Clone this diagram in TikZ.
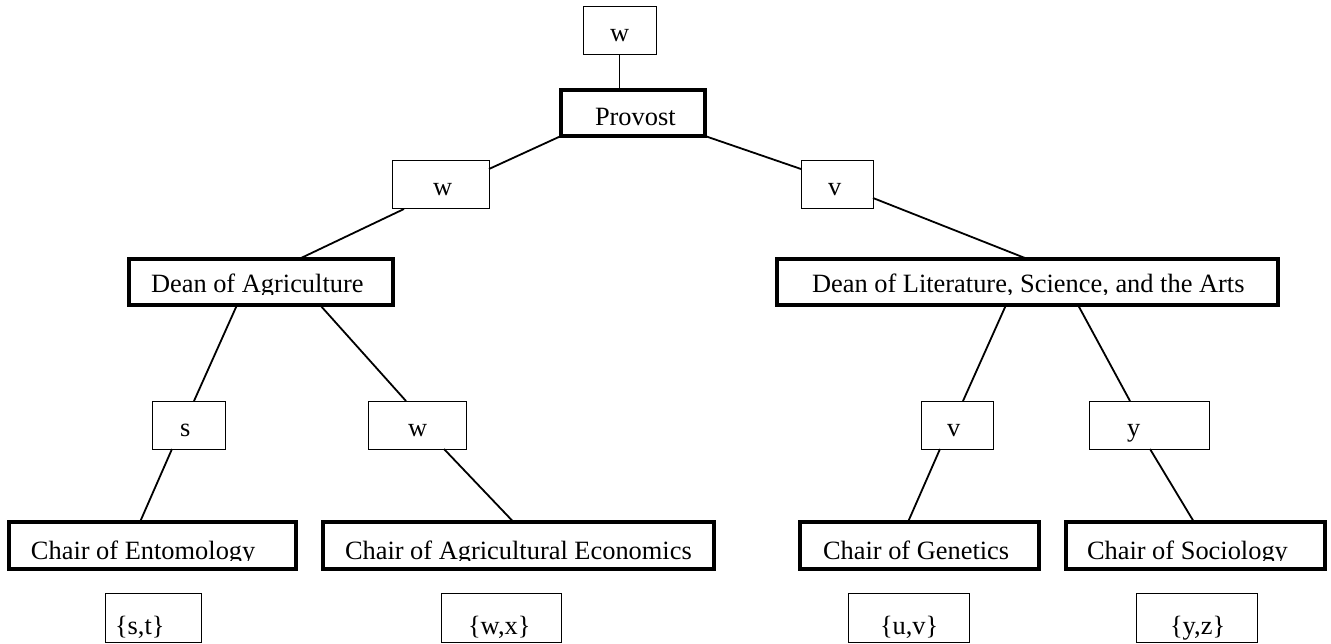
\documentclass[tikz,border=0pt]{standalone}
\usepackage{fontspec}
\setmainfont{Liberation Serif}
% box text: width #1, left padding #2, text #3
\newcommand\boxtxt[3]{\makebox[#1pt][l]{\hspace*{#2pt}#3}}
\begin{document}
\begin{tikzpicture}[x=1pt,y=-1pt,
  lbl/.style={font=\fontsize{26.4}{30}\selectfont, inner sep=0pt, outer sep=0pt, anchor=center},
  thinbox/.style={lbl, draw, line width=1pt, minimum height=48pt, text height=35pt, text depth=13pt},
  setbox/.style={lbl, draw, line width=1pt, minimum height=49pt, text height=41pt, text depth=8pt},
  headbox/.style={lbl, draw, line width=4pt, minimum height=46pt},
  chairbox/.style={lbl, draw, line width=4pt, minimum height=47pt, text height=37pt, text depth=10pt},
  link/.style={line width=1.8pt},
  mask/.style={fill=white}]
\useasboundingbox (0,0) rectangle (1331,644);

% officers (thick boxes)
\node[headbox, minimum width=144pt, text height=36pt, text depth=10pt] (prov) at (633,113) {\boxtxt{144}{34}{Provost}};
\node[headbox, minimum width=264pt, text height=34pt, text depth=12pt] (deanag) at (261,282) {\boxtxt{264}{22}{Dean of Agriculture}};
\node[headbox, minimum width=501pt, text height=34pt, text depth=12pt] (deanlas) at (1027.5,282) {\boxtxt{501}{35}{Dean of Literature, Science, and the Arts}};
\node[chairbox, minimum width=287pt] (ento) at (152.5,545.5) {\boxtxt{287}{22}{Chair of Entomology}};
\node[chairbox, minimum width=391pt] (agecon) at (518.5,545.5) {\boxtxt{391}{22}{Chair of Agricultural Economics}};
\node[chairbox, minimum width=239pt] (gen) at (919.5,545.5) {\boxtxt{239}{23}{Chair of Genetics}};
\node[chairbox, minimum width=259pt] (soc) at (1195.5,545.5) {\boxtxt{259}{21}{Chair of Sociology}};

% labels on the links (thin boxes)
\node[thinbox, minimum width=73pt] (wtop) at (619.5,31) {\boxtxt{73}{27}{w}};
\node[thinbox, minimum width=97pt] (w1) at (440.5,185) {\boxtxt{97}{41}{w}};
\node[thinbox, minimum width=72pt] (v1) at (837,185) {\boxtxt{72}{27}{v}};
\node[thinbox, minimum width=73pt] (s2) at (188.5,425) {\boxtxt{73}{28}{s}};
\node[thinbox, minimum width=98pt] (w2) at (417,425) {\boxtxt{98}{40}{w}};
\node[thinbox, minimum width=72pt] (v2) at (957,425) {\boxtxt{72}{26}{v}};
\node[thinbox, minimum width=120pt] (y2) at (1149,425) {\boxtxt{120}{38}{y}};

% sets under the chairs
\node[setbox, minimum width=96pt] (st) at (153,617.5) {\boxtxt{96}{10}{\{s,t\}}};
\node[setbox, minimum width=120pt] (wx) at (501,617.5) {\boxtxt{120}{27}{\{w,x\}}};
\node[setbox, minimum width=121pt] (uv) at (908.5,617.5) {\boxtxt{121}{32}{\{u,v\}}};
\node[setbox, minimum width=121pt] (yz) at (1196.5,617.5) {\boxtxt{121}{34}{\{y,z\}}};

% descenders cut off at the text line
\fill[mask] ([xshift=2pt,yshift=2pt]deanag.south west) rectangle ([xshift=-2pt,yshift=10pt]deanag.south east);
\fill[mask] ([xshift=2pt,yshift=2pt]deanlas.south west) rectangle ([xshift=-2pt,yshift=10pt]deanlas.south east);
\fill[mask] ([xshift=2pt,yshift=2pt]ento.south west) rectangle ([xshift=-2pt,yshift=8pt]ento.south east);
\fill[mask] ([xshift=2pt,yshift=2pt]agecon.south west) rectangle ([xshift=-2pt,yshift=8pt]agecon.south east);
\fill[mask] ([xshift=2pt,yshift=2pt]soc.south west) rectangle ([xshift=-2pt,yshift=8pt]soc.south east);

% links
\draw[link] (wtop.south) -- (wtop.south |- prov.north);
\draw[link] (prov.south west) -- ([yshift=16pt]w1.east);
\draw[link] (prov.south east) -- ([yshift=16pt]v1.west);
\draw[link] ([xshift=12pt]w1.south west) -- ([xshift=38pt]deanag.north);
\draw[link] ([yshift=11pt]v1.south east) -- (deanlas.north);
\draw[link] ([xshift=-24pt]deanag.south) -- ([xshift=5.5pt]s2.north);
\draw[link] ([xshift=59pt]deanag.south) -- ([xshift=-11pt]w2.north);
\draw[link] ([xshift=-21.5pt]deanlas.south) -- ([xshift=6pt]v2.north);
\draw[link] ([xshift=50.5pt]deanlas.south) -- ([xshift=-19pt]y2.north);
\draw[link] ([xshift=-16.5pt]s2.south) -- ([xshift=-12.5pt]ento.north);
\draw[link] ([xshift=27pt]w2.south) -- ([xshift=-5pt]agecon.north);
\draw[link] ([xshift=-17pt]v2.south) -- ([xshift=-11.5pt]gen.north);
\draw[link] ([xshift=1pt]y2.south) -- ([xshift=-1.5pt]soc.north);
\end{tikzpicture}
\end{document}
